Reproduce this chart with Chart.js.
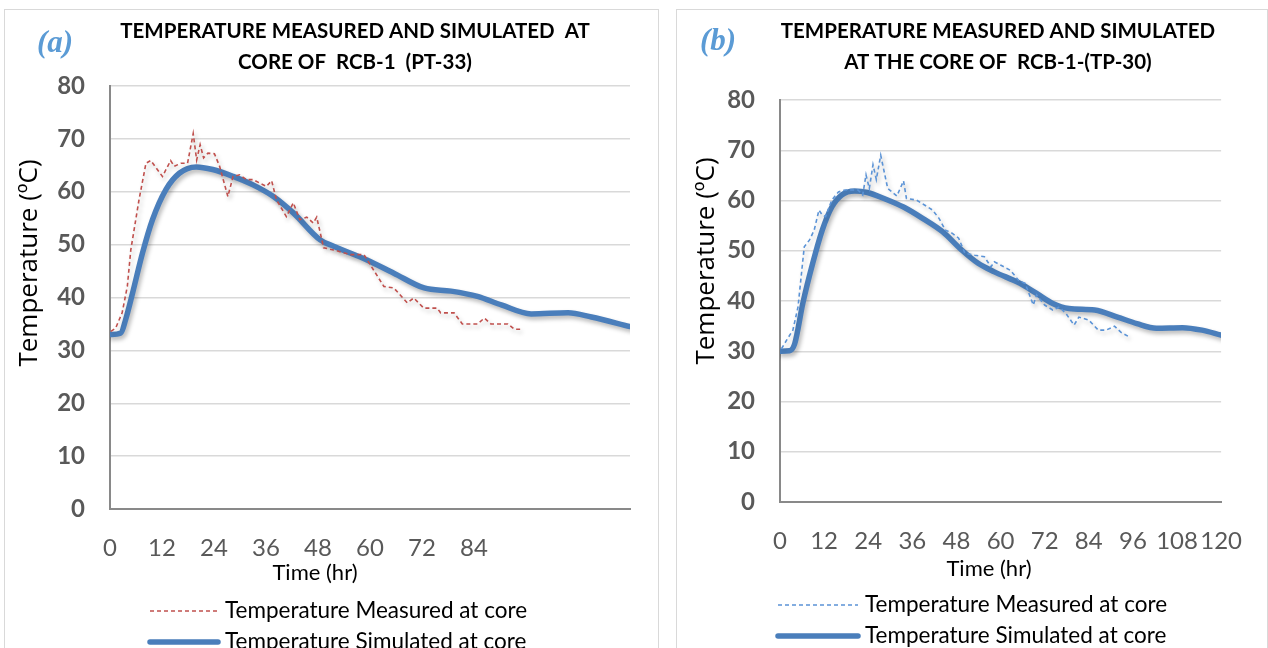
<!DOCTYPE html>
<html>
<head>
<meta charset="utf-8">
<script src="https://cdn.jsdelivr.net/npm/chart.js@4.4.1/dist/chart.umd.min.js"></script>
<style>
  body { margin: 0; background: #fff; width: 1268px; height: 648px; overflow: hidden; position: relative; }
  .panel { position: absolute; top: 10px; height: 660px; outline: 1.5px solid #d9d9d9; }
  #panelA { left: 5px; width: 653px; }
  #panelB { left: 677px; width: 590px; }
  canvas { display: block; }
</style>
</head>
<body>
<div class="panel" id="panelA"><canvas id="chartA" width="653" height="638"></canvas></div>
<div class="panel" id="panelB"><canvas id="chartB" width="590" height="638"></canvas></div>
<script>
// (a) PT-33 : hours / deg C
const hoursMeasA = [0.2, 1.3, 2.8, 4.0, 4.8, 6.7, 8.3, 9.4, 12.1, 14.0, 14.8, 16.4, 17.9, 19.2, 20.0, 20.8, 21.6, 22.6, 24.1, 25.3, 27.2, 28.4, 29.9, 31.5, 33.0, 36.1, 37.3, 38.4, 40.7, 42.3, 43.8, 45.4, 46.9, 47.7, 49.3, 51.6, 55.5, 58.6, 63.2, 65.5, 68.6, 70.1, 72.4, 75.5, 76.3, 79.4, 81.3, 84.8, 86.4, 87.9, 91.8, 93.3, 94.9];
const tempMeasA  = [33.6, 34.2, 37.1, 42.1, 49.0, 58.5, 65.4, 65.9, 62.9, 65.9, 64.8, 65.4, 65.4, 71.0, 66.0, 68.9, 66.4, 67.3, 67.2, 64.8, 59.1, 62.9, 63.2, 62.3, 62.3, 61.0, 62.1, 58.5, 55.3, 57.9, 54.7, 55.2, 54.1, 55.2, 49.4, 49.0, 48.1, 48.1, 42.1, 41.8, 39.0, 39.9, 38.0, 38.0, 37.1, 37.1, 35.0, 35.0, 36.1, 35.0, 35.0, 34.0, 34.0];
const hoursSimA  = [0, 2.5, 3.6, 5.2, 7.5, 9.8, 12.9, 16.0, 19.9, 23.7, 28.4, 33.0, 37.7, 42.3, 48.5, 51.6, 59.3, 65.5, 72.5, 78.7, 84.8, 90.3, 97.2, 105.7, 111.1, 120];
const tempSimA   = [33.0, 33.3, 35.8, 40.8, 48.4, 54.7, 60.4, 63.5, 64.7, 64.2, 62.9, 61.3, 59.1, 56.0, 50.9, 49.7, 47.1, 44.6, 41.8, 41.2, 40.2, 38.6, 36.9, 37.1, 36.3, 34.5];

// (b) TP-30
const hoursMeasB = [0.4, 1.8, 3.5, 4.9, 6.6, 8.0, 9.3, 10.6, 11.5, 12.4, 14.1, 15.9, 17.7, 21.2, 22.5, 23.4, 24.3, 25.3, 26.2, 27.4, 29.3, 31.8, 33.6, 34.4, 37.1, 39.3, 41.5, 43.3, 45.0, 46.8, 48.6, 50.3, 53.0, 55.6, 57.4, 58.3, 60.1, 62.7, 64.9, 66.7, 68.9, 69.8, 72.0, 74.2, 76.0, 77.8, 80.0, 81.3, 84.0, 86.6, 88.7, 91.0, 92.7, 94.9];
const tempMeasB  = [30.5, 32.2, 34.2, 38.8, 50.8, 52.1, 54.1, 58.1, 57.1, 56.8, 60.1, 61.7, 62.1, 62.1, 61.1, 65.1, 62.4, 67.1, 64.2, 69.0, 62.4, 60.9, 63.9, 60.4, 60.1, 59.1, 58.1, 56.4, 54.1, 53.5, 52.5, 49.5, 49.1, 48.8, 46.8, 47.8, 47.1, 46.1, 44.1, 43.5, 39.2, 41.2, 39.2, 38.2, 38.8, 37.5, 35.2, 36.8, 36.2, 34.2, 34.2, 35.0, 33.8, 32.9];
const hoursSimB  = [0, 2.6, 4.0, 6.2, 8.9, 11.5, 14.1, 16.8, 20.3, 23.8, 28.3, 33.6, 38.9, 44.2, 49.5, 53.9, 58.3, 65.3, 69.8, 74.2, 78.6, 85.6, 91.8, 97.1, 102.4, 109.5, 114.8, 120];
const tempSimB   = [30.0, 30.1, 31.5, 39.5, 47.5, 54.1, 58.7, 61.1, 61.9, 61.6, 60.4, 58.7, 56.4, 53.8, 50.1, 47.5, 45.8, 43.5, 41.5, 39.5, 38.5, 38.2, 36.8, 35.5, 34.6, 34.7, 34.2, 33.2];

const yTicks = [0, 10, 20, 30, 40, 50, 60, 70, 80];
const xTicksA = [0, 12, 24, 36, 48, 60, 72, 84];
const xTicksB = [0, 12, 24, 36, 48, 60, 72, 84, 96, 108, 120];

const labelMeas = 'Temperature Measured at core';
const labelSim = 'Temperature Simulated at core';

const FONT = 'Lato, "Open Sans", sans-serif';

function toPoints(xs, ys) {
  return xs.map((x, i) => ({ x: x, y: ys[i] }));
}

// soft drop shadow under the plotted lines
const lineShadow = {
  id: 'lineShadow',
  beforeDatasetDraw(chart) {
    const c = chart.ctx;
    c.save();
    c.shadowColor = 'rgba(0,0,0,0.28)';
    c.shadowBlur = 4;
    c.shadowOffsetX = 2;
    c.shadowOffsetY = 3;
  },
  afterDatasetDraw(chart) {
    chart.ctx.restore();
  }
};

// panel letter, title, axis titles and the stacked legend
const panelText = {
  id: 'panelText',
  afterDraw(chart, args, o) {
    const c = chart.ctx;
    c.save();

    c.fillStyle = '#5b9bd5';
    c.font = 'italic bold 31px "Liberation Serif", "DejaVu Serif", serif';
    c.textAlign = 'left';
    c.textBaseline = 'middle';
    c.fillText(o.letter, o.letterX, o.letterY);

    c.fillStyle = '#000';
    c.font = 'bold 20.5px ' + FONT;
    c.textAlign = 'center';
    o.title.forEach((line, i) => c.fillText(line, o.titleX, o.titleY + i * 31));

    c.font = '22px ' + FONT;
    c.fillText('Time (hr)', o.xTitleX, o.xTitleY);

    c.save();
    c.translate(o.yTitleX, o.yTitleY);
    c.rotate(-Math.PI / 2);
    c.font = '26px "Open Sans", sans-serif';
    c.fillText('Temperature (ºC)', 0, 0);
    c.restore();

    c.font = '22.5px ' + FONT;
    c.textAlign = 'left';
    chart.data.datasets.forEach((ds, i) => {
      const y = o.legendY + i * 31;
      c.save();
      c.strokeStyle = ds.borderColor;
      c.lineWidth = ds.borderWidth;
      c.lineCap = ds.borderDash ? 'butt' : 'round';
      c.setLineDash(ds.borderDash || []);
      c.beginPath();
      c.moveTo(o.legendX0, y);
      c.lineTo(o.legendX1, y);
      c.stroke();
      c.restore();
      c.fillStyle = '#000';
      c.fillText(ds.label, o.legendX1 + 7, y);
    });

    c.restore();
  }
};

function makeChart(id, d) {
  new Chart(document.getElementById(id), {
    type: 'line',
    data: {
      datasets: [
        {
          label: labelMeas,
          data: toPoints(d.measHours, d.measTemp),
          borderColor: d.measColor,
          borderWidth: 1.6,
          borderDash: [4, 3],
          pointRadius: 0,
          tension: 0
        },
        {
          label: labelSim,
          data: toPoints(d.simHours, d.simTemp),
          borderColor: '#4a7ebb',
          borderWidth: 5.5,
          borderCapStyle: 'round',
          pointRadius: 0,
          cubicInterpolationMode: 'monotone'
        }
      ]
    },
    options: {
      responsive: false,
      animation: false,
      layout: { padding: d.padding },
      plugins: {
        legend: { display: false },
        tooltip: { enabled: false },
        panelText: d.text
      },
      scales: {
        x: {
          type: 'linear',
          min: 0,
          max: 120,
          afterBuildTicks: s => { s.ticks = xTicksB.map(v => ({ value: v })); },
          afterFit: s => { s.height = 60; },
          ticks: {
            padding: 25,
            color: '#595959',
            maxRotation: 0,
            autoSkip: false,
            font: { family: FONT, size: 24 },
            callback: v => d.xTicks.includes(v) ? String(v) : ''
          },
          grid: { drawOnChartArea: false, drawTicks: false },
          border: { color: '#898989', width: 2 }
        },
        y: {
          min: 0,
          max: 80,
          afterBuildTicks: s => { s.ticks = yTicks.map(v => ({ value: v })); },
          afterFit: s => { s.width = d.yWidth; },
          ticks: {
            padding: 25,
            color: '#595959',
            font: { family: FONT, size: 24, weight: 'bold' }
          },
          grid: { color: '#d9d9d9', lineWidth: 1.5, drawTicks: false },
          border: { color: '#898989', width: 2 }
        }
      }
    },
    plugins: [lineShadow, panelText]
  });
}

makeChart('chartA', {
  measHours: hoursMeasA, measTemp: tempMeasA,
  simHours: hoursSimA, simTemp: tempSimA,
  measColor: '#c0504d',
  xTicks: xTicksA,
  yWidth: 105,
  padding: { left: 0, right: 28, top: 76, bottom: 79 },
  text: {
    letter: '(a)', letterX: 32, letterY: 34,
    title: ['TEMPERATURE MEASURED AND SIMULATED  AT', 'CORE OF  RCB-1  (PT-33)'],
    titleX: 350, titleY: 21,
    xTitleX: 310, xTitleY: 563,
    yTitleX: 25, yTitleY: 253,
    legendX0: 145, legendX1: 213, legendY: 601
  }
});

makeChart('chartB', {
  measHours: hoursMeasB, measTemp: tempMeasB,
  simHours: hoursSimB, simTemp: tempSimB,
  measColor: '#5b93d6',
  xTicks: xTicksB,
  yWidth: 103,
  padding: { left: 0, right: 34, top: 90, bottom: 86 },
  text: {
    letter: '(b)', letterX: 23, letterY: 32,
    title: ['TEMPERATURE MEASURED AND SIMULATED', 'AT THE CORE OF  RCB-1-(TP-30)'],
    titleX: 321, titleY: 21,
    xTitleX: 312, xTitleY: 559,
    yTitleX: 30, yTitleY: 251,
    legendX0: 101, legendX1: 181, legendY: 595
  }
});
</script>
</body>
</html>
